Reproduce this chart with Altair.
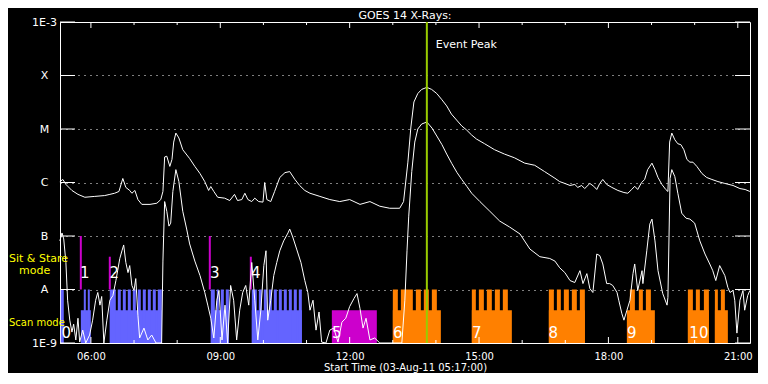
import altair as alt
import pandas as pd

FONT = "DejaVu Sans"

# ---------------- time axis (decimal hours UT, 03-Aug-2011) ----------------
START = 5 + 17 / 60
END = START + 16
hour_ticks = list(range(6, 22))
labelled_hours = [6, 9, 12, 15, 18, 21]

# ---------------- GOES 14 flux (hour, W/m^2) ----------------
long_channel = [
    (5.28, 1.04e-6), (5.35, 1.14e-6), (5.42, 9.2e-7), (5.56, 7.1e-7), (5.70, 6.0e-7),
    (5.86, 5.3e-7), (6.09, 5.5e-7), (6.32, 5.7e-7), (6.44, 6.0e-7), (6.55, 6.3e-7),
    (6.65, 6.8e-7), (6.74, 1.19e-6), (6.81, 8.1e-7), (6.90, 7.1e-7), (6.95, 6.3e-7),
    (7.02, 7.1e-7), (7.09, 4.8e-7), (7.18, 3.9e-7), (7.37, 3.9e-7), (7.53, 4.1e-7),
    (7.62, 4.8e-7), (7.67, 6.8e-7), (7.71, 3.0e-6), (7.76, 3.1e-6), (7.83, 2.0e-6),
    (7.88, 2.7e-6), (7.92, 5.7e-6), (7.97, 8.4e-6), (8.04, 6.8e-6), (8.13, 4.1e-6),
    (8.29, 2.8e-6), (8.41, 2.0e-6), (8.53, 1.47e-6), (8.64, 1.04e-6), (8.73, 7.1e-7),
    (8.78, 8.4e-7), (8.85, 6.8e-7), (8.94, 5.3e-7), (9.10, 5.1e-7), (9.22, 4.6e-7),
    (9.33, 6.0e-7), (9.40, 4.6e-7), (9.50, 4.8e-7), (9.57, 6.3e-7), (9.64, 4.8e-7),
    (9.73, 4.4e-7), (9.80, 5.1e-7), (9.89, 4.4e-7), (9.99, 4.3e-7), (10.03, 1.0e-6),
    (10.08, 4.8e-7), (10.17, 4.4e-7), (10.26, 6.8e-7), (10.38, 1.24e-6), (10.50, 1.53e-6),
    (10.61, 1.6e-6), (10.73, 1.14e-6), (10.84, 8.8e-7), (10.96, 7.1e-7), (11.08, 6.3e-7),
    (11.31, 5.5e-7), (11.54, 4.8e-7), (11.77, 4.4e-7), (12.00, 4.8e-7), (12.24, 3.9e-7),
    (12.47, 4.4e-7), (12.70, 3.6e-7), (12.93, 3.3e-7), (13.16, 3.3e-7), (13.25, 4.4e-7),
    (13.35, 2.4e-6), (13.42, 1.09e-5), (13.49, 3.2e-5), (13.58, 4.6e-5), (13.67, 5.5e-5),
    (13.79, 6.0e-5), (13.90, 5.5e-5), (14.02, 4.6e-5), (14.13, 3.6e-5), (14.25, 2.7e-5),
    (14.36, 1.9e-5), (14.48, 1.47e-5), (14.60, 1.14e-5), (14.71, 9.6e-6), (14.83, 7.7e-6),
    (14.94, 6.5e-6), (15.13, 5.3e-6), (15.36, 4.1e-6), (15.59, 3.4e-6), (15.82, 2.9e-6),
    (16.06, 2.3e-6), (16.29, 2.1e-6), (16.52, 1.6e-6), (16.76, 1.2e-6), (16.87, 1.04e-6),
    (16.99, 9.6e-7), (17.11, 8.8e-7), (17.22, 9.2e-7), (17.29, 8.1e-7), (17.38, 8.8e-7),
    (17.45, 7.7e-7), (17.57, 9.6e-7), (17.66, 8.5e-7), (17.73, 7.4e-7), (17.80, 9.6e-7),
    (17.87, 1.14e-6), (17.96, 9.2e-7), (18.08, 8.1e-7), (18.22, 7.1e-7), (18.36, 6.5e-7),
    (18.45, 6.3e-7), (18.54, 7.4e-7), (18.61, 8.5e-7), (18.68, 7.4e-7), (18.77, 1.0e-6),
    (18.84, 1.14e-6), (18.91, 1.74e-6), (19.01, 2.3e-6), (19.08, 1.74e-6), (19.15, 1.24e-6),
    (19.24, 9.2e-7), (19.33, 7.4e-7), (19.38, 6.8e-7), (19.42, 5.7e-6), (19.47, 8.4e-6),
    (19.54, 6.3e-6), (19.61, 5.3e-6), (19.68, 5.1e-6), (19.75, 4.1e-6), (19.82, 2.7e-6),
    (19.89, 2.4e-6), (19.96, 2.4e-6), (20.05, 2.0e-6), (20.17, 1.47e-6), (20.28, 1.24e-6),
    (20.40, 1.14e-6), (20.54, 1.04e-6), (20.70, 9.6e-7), (20.89, 8.8e-7), (21.05, 7.7e-7),
    (21.17, 7.4e-7), (21.28, 6.8e-7),
]

short_channel = [
    (5.28, 8.1e-8), (5.33, 1.14e-7), (5.37, 8.8e-8), (5.42, 3.2e-8), (5.46, 6.3e-9),
    (5.51, 2.67e-9), (5.56, 1.6e-9), (5.60, 2.25e-9), (5.65, 1.14e-9), (5.70, 2.9e-9),
    (5.74, 1.04e-9), (5.81, 1.74e-9), (5.88, 1.0e-9), (5.97, 1.41e-9), (6.04, 2.67e-9),
    (6.11, 6.3e-9), (6.16, 8.8e-9), (6.21, 5.1e-9), (6.25, 7.4e-9), (6.30, 1.0e-9),
    (6.37, 2.67e-9), (6.44, 6.3e-9), (6.51, 7.7e-9), (6.58, 1.47e-8), (6.62, 2.25e-8),
    (6.67, 3.8e-8), (6.72, 5.3e-8), (6.76, 6.8e-8), (6.81, 3.2e-8), (6.86, 2.07e-8),
    (6.90, 2.8e-8), (6.95, 1.19e-8), (7.00, 9.6e-9), (7.04, 1.6e-8), (7.09, 3.3e-9),
    (7.13, 1.24e-9), (7.23, 1.9e-9), (7.32, 1.14e-9), (7.41, 1.41e-9), (7.51, 1.0e-9),
    (7.64, 1.0e-9), (7.67, 3.4e-8), (7.71, 4.4e-7), (7.76, 2.9e-7), (7.81, 1.53e-7),
    (7.85, 1.74e-7), (7.90, 6.8e-7), (7.97, 1.74e-6), (8.04, 1.04e-6), (8.13, 2.9e-7),
    (8.22, 1.35e-7), (8.29, 7.1e-8), (8.41, 3.4e-8), (8.53, 1.82e-8), (8.64, 8.8e-9),
    (8.71, 5.1e-9), (8.78, 2.9e-9), (8.85, 1.24e-9), (8.92, 6.3e-9), (8.97, 9.6e-9),
    (9.04, 1.14e-9), (9.11, 5.1e-9), (9.17, 1.0e-9), (9.24, 1.19e-8), (9.31, 6.3e-9),
    (9.38, 1.14e-9), (9.45, 4.1e-9), (9.52, 8.8e-9), (9.59, 1.19e-8), (9.66, 5.1e-9),
    (9.73, 3.2e-8), (9.80, 6.3e-9), (9.87, 1.14e-9), (9.94, 4.1e-9), (10.01, 2.8e-8),
    (10.06, 5.3e-8), (10.10, 2.67e-9), (10.17, 6.3e-9), (10.24, 1.82e-8), (10.31, 3.2e-8),
    (10.38, 5.3e-8), (10.47, 8.1e-8), (10.57, 1.14e-7), (10.61, 1.35e-7), (10.68, 9.6e-8),
    (10.77, 5.7e-8), (10.87, 3.2e-8), (10.96, 1.47e-8), (11.03, 8.8e-9), (11.08, 4.1e-9),
    (11.15, 6.3e-9), (11.22, 1.74e-9), (11.29, 3.8e-9), (11.35, 1.04e-9), (11.45, 1.0e-9),
    (11.54, 1.74e-9), (11.63, 1.9e-9), (11.73, 1.04e-9), (11.82, 2.45e-9), (11.91, 2.9e-9),
    (12.00, 4.8e-9), (12.10, 6.8e-9), (12.17, 8.4e-9), (12.24, 4.4e-9), (12.31, 1.9e-9),
    (12.38, 2.9e-9), (12.47, 1.14e-9), (12.58, 1.24e-9), (12.70, 1.0e-9), (13.21, 1.0e-9),
    (13.28, 6.3e-9), (13.33, 5.3e-8), (13.37, 2.35e-7), (13.44, 1.6e-6), (13.51, 5.7e-6),
    (13.58, 1.0e-5), (13.67, 1.24e-5), (13.79, 1.35e-5), (13.91, 1.04e-5), (14.02, 7.4e-6),
    (14.14, 5.1e-6), (14.25, 3.4e-6), (14.37, 2.25e-6), (14.49, 1.53e-6), (14.60, 1.14e-6),
    (14.72, 8.4e-7), (14.83, 6.3e-7), (15.02, 4.4e-7), (15.25, 2.9e-7), (15.48, 1.9e-7),
    (15.71, 1.47e-7), (15.95, 1.09e-7), (16.18, 5.7e-8), (16.41, 4.1e-8), (16.64, 3.8e-8),
    (16.76, 3.4e-8), (16.87, 2.55e-8), (16.99, 2.07e-8), (17.11, 1.47e-8), (17.22, 1.35e-8),
    (17.34, 2.25e-8), (17.41, 1.29e-8), (17.50, 1.98e-8), (17.57, 1.04e-8), (17.64, 8.8e-9),
    (17.73, 4.6e-8), (17.80, 4.3e-8), (17.87, 3.0e-8), (17.96, 1.29e-8), (18.03, 1.29e-8),
    (18.10, 1.19e-8), (18.20, 8.8e-9), (18.24, 6.3e-9), (18.31, 3.6e-9), (18.36, 2.67e-9),
    (18.43, 4.1e-9), (18.50, 6.3e-9), (18.57, 1.98e-8), (18.61, 3.0e-8), (18.68, 9.6e-9),
    (18.78, 2.25e-8), (18.80, 1.29e-8), (18.89, 5.3e-8), (18.96, 1.67e-7), (19.01, 2.07e-7),
    (19.08, 8.1e-8), (19.15, 2.25e-8), (19.26, 8.4e-9), (19.36, 5.1e-9), (19.38, 7.1e-9),
    (19.43, 1.19e-6), (19.47, 1.74e-6), (19.54, 1.29e-6), (19.61, 6.3e-7), (19.70, 2.67e-7),
    (19.80, 2.15e-7), (19.89, 2.07e-7), (20.00, 1.74e-7), (20.12, 8.1e-8), (20.24, 4.6e-8),
    (20.35, 3.0e-8), (20.42, 2.25e-8), (20.49, 1.47e-8), (20.58, 2.8e-8), (20.70, 1.82e-8),
    (20.77, 1.09e-8), (20.82, 8.8e-9), (20.89, 9.6e-9), (20.93, 6.3e-9), (20.98, 1.53e-9),
    (21.05, 6.3e-9), (21.12, 9.6e-9), (21.16, 4.1e-9), (21.23, 7.7e-9), (21.28, 9.6e-9),
]

# ---------------- flux classes ----------------
level_values = [1e-9, 1e-8, 1e-7, 1e-6, 1e-5, 1e-4, 1e-3]
level_names = ["1E-9", "A", "B", "C", "M", "X", "1E-3"]

event_peak_hour = 13.79
chart_title = "GOES 14 X-Rays:"
x_title = "Start Time (03-Aug-11 05:17:00)"

# ---------------- observing plan ----------------
FLOOR = 1e-9
scan_low_top = 4.1e-9
scan_high_top = 1e-8

blue_low = [(5.766, 5.998), (6.438, 7.644), (8.780, 9.198), (9.731, 10.891)]
blue_high = [
    (5.302, 5.371), (5.835, 5.882), (5.928, 5.974),
    (6.438, 6.577), (6.624, 6.693), (6.740, 6.809), (6.856, 6.925), (6.972, 7.041),
    (7.088, 7.157), (7.203, 7.273), (7.320, 7.389), (7.435, 7.505), (7.551, 7.644),
    (8.780, 8.873), (8.919, 8.966), (9.012, 9.082), (9.128, 9.198),
    (9.731, 9.847), (9.894, 9.963), (10.010, 10.079), (10.126, 10.195), (10.242, 10.311),
    (10.358, 10.427), (10.474, 10.543), (10.590, 10.659), (10.705, 10.775), (10.821, 10.891),
]
magenta_low = [(11.587, 12.630)]
orange_low = [(13.001, 14.115), (14.833, 15.761), (16.619, 17.454),
              (18.428, 19.077), (19.843, 20.330), (20.469, 20.770)]
orange_high = [
    (13.001, 13.117), (13.187, 13.465), (13.535, 13.651), (13.720, 13.836), (13.906, 14.022),
    (14.833, 14.926), (14.996, 15.112), (15.181, 15.297), (15.367, 15.483), (15.552, 15.668),
    (16.619, 16.735), (16.805, 16.897), (16.967, 17.083), (17.152, 17.268), (17.338, 17.454),
    (18.498, 18.614), (18.706, 18.799), (18.869, 18.985),
    (19.843, 19.959), (20.028, 20.121), (20.214, 20.330),
    (20.469, 20.538), (20.608, 20.701),
]

sit_stare_hours = [5.766, 6.438, 8.757, 9.708]
sit_stare_tops = [1.0e-7, 4.1e-8, 1.0e-7, 4.1e-8]
sit_stare_labels = ["1", "2", "3", "4"]
sit_stare_label_hours = [5.858, 6.542, 8.873, 9.824]
sit_stare_label_flux = 2.0e-8

scan_labels = ["0", "5", "6", "7", "8", "9", "10"]
scan_label_hours = [5.429, 11.702, 13.117, 14.949, 16.723, 18.544, 20.098]
scan_label_flux = 1.53e-9

program_names = ["blue", "magenta", "orange"]
program_colors = ["#6464FF", "#CC00CC", "#FF8000"]

# ---------------- tables ----------------
flux_df = pd.concat([
    pd.DataFrame(long_channel, columns=["hour", "flux"]).assign(channel="1-8 A"),
    pd.DataFrame(short_channel, columns=["hour", "flux"]).assign(channel="0.5-4 A"),
])

rows = []
for prog, lows, highs in [("blue", blue_low, blue_high), ("magenta", magenta_low, []),
                          ("orange", orange_low, orange_high)]:
    for s, e in lows:
        rows.append({"hour": s, "end": e, "flux": scan_low_top, "floor": FLOOR, "program": prog})
    for s, e in highs:
        rows.append({"hour": s, "end": e, "flux": scan_high_top, "floor": FLOOR, "program": prog})
bars_df = pd.DataFrame(rows)

stare_df = pd.DataFrame({"hour": sit_stare_hours, "flux": sit_stare_tops, "bottom": scan_high_top})
stare_lab_df = pd.DataFrame({"hour": sit_stare_label_hours, "flux": sit_stare_label_flux,
                             "label": sit_stare_labels})
scan_lab_df = pd.DataFrame({"hour": scan_label_hours, "flux": scan_label_flux, "label": scan_labels})
event_df = pd.DataFrame({"hour": [event_peak_hour], "label": ["Event Peak"]})
ticks_df = pd.DataFrame({"hour": hour_ticks})
major_df = ticks_df[ticks_df["hour"].isin(labelled_hours)]
minor_df = ticks_df[~ticks_df["hour"].isin(labelled_hours)]
levels_df = pd.DataFrame({"flux": level_values})

# ---------------- scales / axes ----------------
W, H = 690, 321
xs = alt.Scale(domain=[START, END], nice=False, zero=False)
ys = alt.Scale(type="log", domain=[level_values[0], level_values[-1]], nice=False)

names_js = "[" + ",".join("'%s'" % n for n in level_names) + "]"
x_axis = alt.Axis(
    values=labelled_hours,
    labelExpr="(datum.value < 10 ? '0' : '') + datum.value + ':00'",
    ticks=False, tickSize=0, domain=False, grid=False, labelFlush=False,
    labelPadding=8, labelFontSize=10, labelFont=FONT, labelColor="white",
    title=x_title, titleFont=FONT, titleFontSize=10,
    titleFontWeight="normal", titleColor="white", titleBaseline="alphabetic", titleY=27,
)
y_axis = alt.Axis(
    values=level_values,
    labelExpr=names_js + "[round(log(datum.value)/LN10) + 9]",
    ticks=False, tickSize=0, domain=False, labelFlush=False, labelOverlap=False,
    grid=True, gridColor="white", gridDash=[1, 5], gridWidth=1, gridOpacity=1,
    labelAlign="center", labelBaseline="middle", labelPadding=16,
    labelFontSize=11, labelFont=FONT, labelColor="white", title=None,
)


def X(f):
    return alt.X(f, scale=xs, axis=x_axis)


def Y(f):
    return alt.Y(f, scale=ys, axis=y_axis)


bars = alt.Chart(bars_df).mark_rect().encode(
    x=X("hour:Q"), x2="end:Q", y=Y("flux:Q"), y2="floor:Q",
    color=alt.Color("program:N", scale=alt.Scale(domain=program_names, range=program_colors),
                    legend=None),
)

stare = alt.Chart(stare_df).mark_rule(color="#CC00CC", strokeWidth=2).encode(
    x=X("hour:Q"), y=Y("flux:Q"), y2="bottom:Q")

lines = alt.Chart(flux_df).mark_line(color="white", strokeWidth=1).encode(
    x=X("hour:Q"), y=Y("flux:Q"), detail="channel:N")

event = alt.Chart(event_df).mark_rule(color="#99CC00", strokeWidth=2).encode(x=X("hour:Q"))
event_txt = alt.Chart(event_df).mark_text(
    align="left", baseline="middle", dx=9, color="white", font=FONT, fontSize=11
).encode(x=X("hour:Q"), y=alt.value(23), text="label:N")

num_style = dict(align="center", baseline="middle", color="white", font=FONT, fontSize=15)
stare_txt = alt.Chart(stare_lab_df).mark_text(**num_style).encode(
    x=X("hour:Q"), y=Y("flux:Q"), text="label:N")
scan_txt = alt.Chart(scan_lab_df).mark_text(**num_style).encode(
    x=X("hour:Q"), y=Y("flux:Q"), text="label:N")


# axis ticks pointing inwards (top & bottom hourly, left & right at class levels)
def hticks(df, length):
    bot = alt.Chart(df).mark_rule(color="white").encode(
        x=X("hour:Q"), y=alt.value(H), y2=alt.value(H - length))
    top = alt.Chart(df).mark_rule(color="white").encode(
        x=X("hour:Q"), y=alt.value(0), y2=alt.value(length))
    return [bot, top]


vticks_l = alt.Chart(levels_df).mark_rule(color="white").encode(
    y=Y("flux:Q"), x=alt.value(0), x2=alt.value(15))
vticks_r = alt.Chart(levels_df).mark_rule(color="white").encode(
    y=Y("flux:Q"), x=alt.value(W - 15), x2=alt.value(W))


def free_text(text, x, y, size, color, align="left", baseline="middle"):
    return alt.Chart(pd.DataFrame({"t": [text]})).mark_text(
        fontSize=size, color=color, font=FONT, align=align, baseline=baseline
    ).encode(text="t:N", x=alt.value(x), y=alt.value(y))


title_txt = free_text(chart_title, W / 2, -3.5, 11, "white", align="center", baseline="alphabetic")
t1 = free_text("Sit & Stare", -51, 237, 11, "#FFFF00")
t2 = free_text("mode", -41, 249, 11, "#FFFF00")
t3 = free_text("Scan mode", -51, 301, 10, "#FFFF00")

chart = alt.layer(
    bars, stare, lines, event, event_txt, stare_txt, scan_txt,
    *hticks(major_df, 6), *hticks(minor_df, 3), vticks_l, vticks_r,
    title_txt, t1, t2, t3,
).properties(
    width=W, height=H,
    autosize=alt.AutoSizeParams(type="none"),
    padding={"left": 52, "top": 14, "right": 8, "bottom": 30},
).configure(background="black").configure_view(stroke="white", strokeWidth=1)

chart.save("out.html", embed_options={"renderer": "svg", "actions": False})
